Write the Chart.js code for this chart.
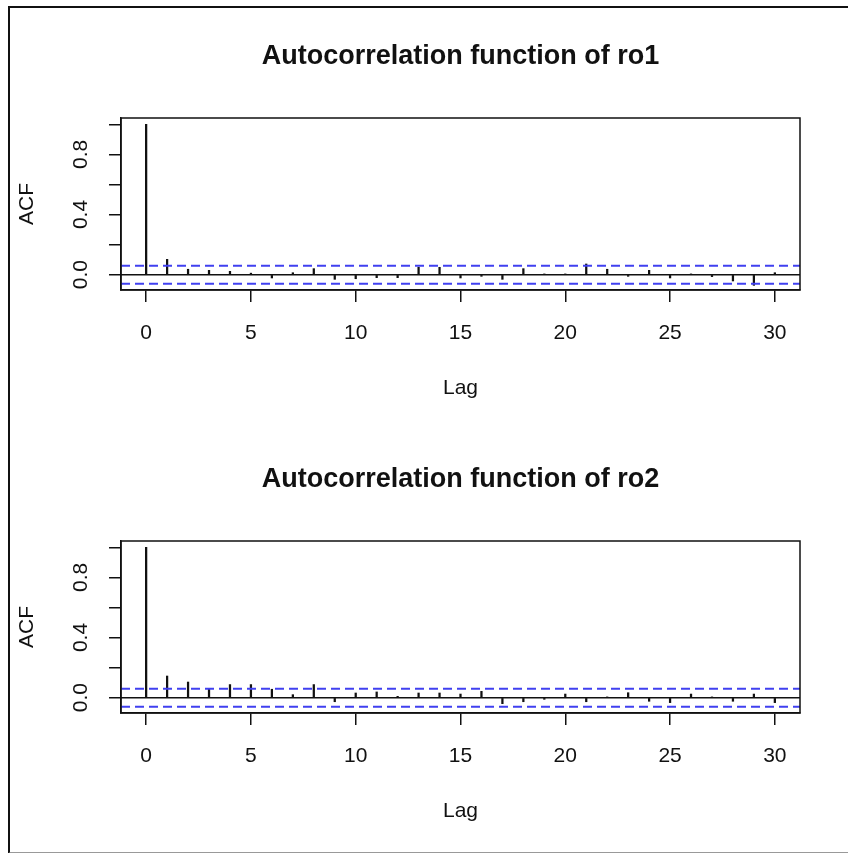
<!DOCTYPE html>
<html>
<head>
<meta charset="utf-8">
<script src="https://cdn.jsdelivr.net/npm/chart.js@4.4.1/dist/chart.umd.min.js"></script>
<style>
  body { margin: 0; background: #fff; width: 848px; height: 853px; position: relative; overflow: hidden; }
  .panel { position: absolute; left: 0; width: 848px; height: 423px; }
  #frame { position: absolute; left: 8px; top: 6px; width: 850px; height: 844px;
           border-left: 2px solid #111; border-top: 2px solid #111; border-bottom: 2px solid #999; pointer-events: none; }
</style>
</head>
<body>
<div class="panel" style="top:0"><canvas id="acf1"></canvas></div>
<div class="panel" style="top:423px"><canvas id="acf2"></canvas></div>
<div id="frame"></div>
<script>
// lags 0..30
const lags = [0,1,2,3,4,5,6,7,8,9,10,11,12,13,14,15,16,17,18,19,20,21,22,23,24,25,26,27,28,29,30];
// values
const ro1Acf = [1, 0.102, 0.036, 0.029, 0.022, 0.01, -0.022, 0.013, 0.04, -0.031, -0.027,
  -0.02, -0.02, 0.049, 0.049, -0.022, -0.011, -0.031, 0.04, 0.002, 0.003,
  0.071, 0.036, -0.011, 0.029, -0.022, 0.002, -0.013, -0.042, -0.071, 0.013];
const ro2Acf = [1, 0.144, 0.104, 0.056, 0.087, 0.087, 0.056, 0.02, 0.087, -0.027, 0.031,
  0.038, 0.009, 0.031, 0.031, 0.024, 0.042, -0.04, -0.027, -0.011, 0.024,
  -0.027, 0.002, 0.033, -0.024, -0.033, 0.024, 0.002, -0.024, 0.024, -0.033];
const ciLimit = 0.06;
const xTicks = [0, 5, 10, 15, 20, 25, 30];
const yTicks = [0, 0.2, 0.4, 0.6, 0.8, 1.0];
const yLabels = [0, 0.4, 0.8];
const xRange = [-1.2, 31.2];
const yRange = [-0.102, 1.042];

const FONT = "'Liberation Sans', Arial, sans-serif";
const INK = '#111';

// R-style box, rotated y labels and main title
const boxPlugin = {
  id: 'rbox',
  afterDraw(chart, args, opts) {
    const ctx = chart.ctx, a = chart.chartArea, y = chart.scales.y;
    ctx.save();
    ctx.strokeStyle = INK;
    ctx.lineWidth = 1.5;
    ctx.strokeRect(a.left, a.top, a.right - a.left, a.bottom - a.top);
    ctx.fillStyle = INK;
    ctx.textAlign = 'center';
    ctx.textBaseline = 'middle';
    ctx.font = 'bold 27px ' + FONT;
    ctx.fillText(opts.text, (a.left + a.right) / 2, 57);
    ctx.font = '21px ' + FONT;
    yLabels.forEach(v => {
      ctx.save();
      ctx.translate(81, y.getPixelForValue(v));
      ctx.rotate(-Math.PI / 2);
      ctx.fillText(v.toFixed(1), 0, 0);
      ctx.restore();
    });
    ctx.restore();
  }
};

function makeAcf(id, title, values) {
  new Chart(document.getElementById(id), {
    type: 'bar',
    data: {
      datasets: [
        {
          type: 'line', data: [{x: xRange[0], y: ciLimit}, {x: xRange[1], y: ciLimit}],
          borderColor: '#4040f0', borderWidth: 2, borderDash: [9, 5], pointRadius: 0
        },
        {
          type: 'line', data: [{x: xRange[0], y: -ciLimit}, {x: xRange[1], y: -ciLimit}],
          borderColor: '#4040f0', borderWidth: 2, borderDash: [9, 5], pointRadius: 0
        },
        {
          type: 'line', data: [{x: xRange[0], y: 0}, {x: xRange[1], y: 0}],
          borderColor: INK, borderWidth: 1.5, pointRadius: 0
        },
        {
          data: lags.map((l, i) => ({x: l, y: values[i]})),
          backgroundColor: INK, barThickness: 1.6
        }
      ]
    },
    options: {
      responsive: false,
      animation: false,
      layout: { padding: { left: 0, right: 48, top: 118, bottom: 18 } },
      plugins: {
        legend: { display: false },
        tooltip: { enabled: false },
        title: { display: false },
        rbox: { text: title }
      },
      scales: {
        x: {
          type: 'linear', min: xRange[0], max: xRange[1], offset: false,
          afterBuildTicks: s => { s.ticks = xTicks.map(v => ({value: v})); },
          afterFit: s => { s.height = 115; },
          grid: { offset: false, drawOnChartArea: false, tickLength: 12, color: INK, lineWidth: 1.5 },
          border: { color: INK, width: 1.5 },
          ticks: { color: INK, font: { family: FONT, size: 21 }, padding: 19, maxRotation: 0 },
          title: { display: true, text: 'Lag', color: INK, font: { family: FONT, size: 21 }, padding: { top: 16 } }
        },
        y: {
          min: yRange[0], max: yRange[1],
          afterBuildTicks: s => { s.ticks = yTicks.map(v => ({value: v})); },
          afterFit: s => { s.width = 121; },
          grid: { drawOnChartArea: false, tickLength: 12, color: INK, lineWidth: 1.5 },
          border: { color: INK, width: 1.5 },
          ticks: { display: false },
          title: { display: true, text: 'ACF', color: INK, font: { family: FONT, size: 21 }, padding: { top: 15 } }
        }
      }
    },
    plugins: [boxPlugin]
  });
}

['acf1', 'acf2'].forEach(id => {
  const c = document.getElementById(id);
  c.width = 848; c.height = 423;
});
makeAcf('acf1', 'Autocorrelation function of ro1', ro1Acf);
makeAcf('acf2', 'Autocorrelation function of ro2', ro2Acf);
</script>
</body>
</html>
